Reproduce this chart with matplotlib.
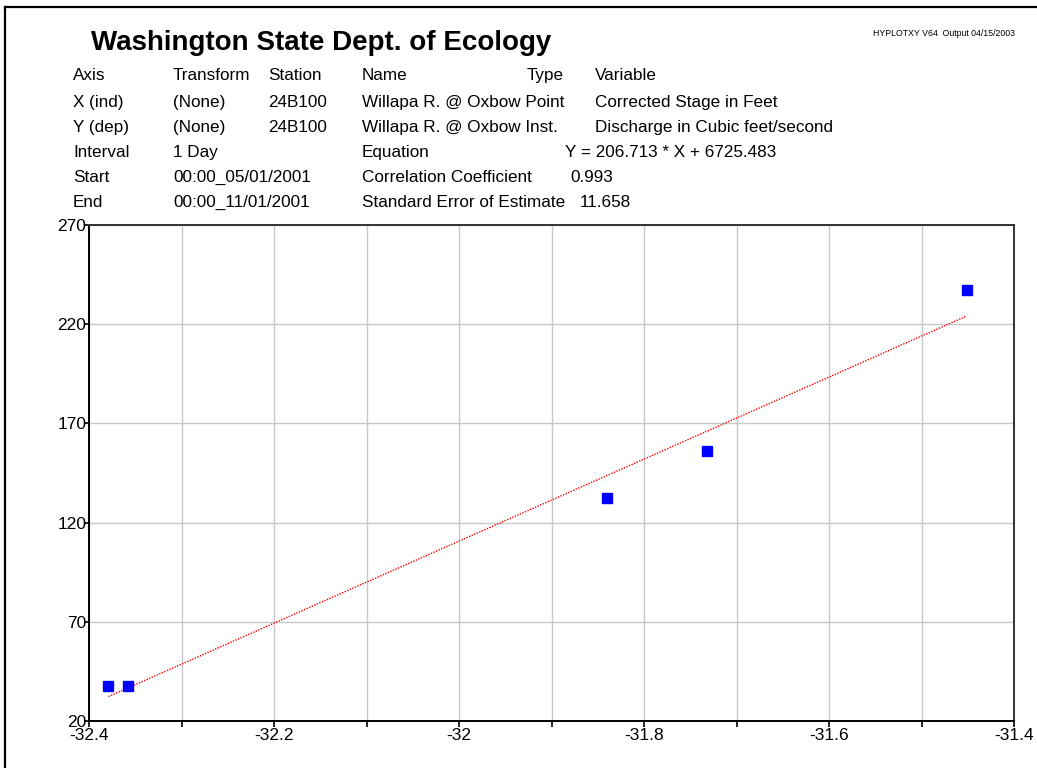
import numpy as np
import matplotlib
matplotlib.use("Agg")
import matplotlib.pyplot as plt
from matplotlib.lines import Line2D
from matplotlib.ticker import MultipleLocator

plt.rcParams["font.family"] = ["Liberation Sans", "DejaVu Sans"]

# ── data ─────────────────────────────────────────────────────────────
stage = [-32.379, -32.358, -31.840, -31.732, -31.451]      # Corrected Stage in Feet
discharge = [37.6, 37.6, 132.4, 156.1, 237.2]               # Discharge in cfs
slope = 206.713
intercept = 6725.483
y_ticks = [20, 70, 120, 170, 220, 270]

header_rows = [
    ["Axis", "Transform", "Station", "Name", "Type", "Variable"],
    ["X (ind)", "(None)", "24B100", "Willapa R. @ Oxbow Point", "", "Corrected Stage in Feet"],
    ["Y (dep)", "(None)", "24B100", "Willapa R. @ Oxbow Inst.", "", "Discharge in Cubic feet/second"],
]
stat_rows = [
    ("Interval", "1 Day", "Equation", "Y = 206.713 * X + 6725.483"),
    ("Start", "00:00_05/01/2001", "Correlation Coefficient", "0.993"),
    ("End", "00:00_11/01/2001", "Standard Error of Estimate", "11.658"),
]

W, H = 1037, 768
fig = plt.figure(figsize=(W / 100, H / 100), dpi=100, facecolor="white")


def fx(px):
    return px / W


def fy(py):
    return 1 - py / H


# outer frame (top + left)
fig.add_artist(Line2D([fx(5), fx(W)], [fy(7), fy(7)], color="black", lw=1.6))
fig.add_artist(Line2D([fx(5), fx(5)], [fy(7), fy(H)], color="black", lw=1.6))

# ── header ──────────────────────────────────────────────────────────
fig.text(fx(91), fy(50), "Washington State Dept. of Ecology", fontsize=20,
         fontweight="bold", va="baseline", ha="left")
fig.text(fx(1015), fy(36), "HYPLOTXY V64  Output 04/15/2003", fontsize=6.3,
         va="baseline", ha="right")

FS = 12.3
col_x = [73, 173, 268, 362, 527, 595]
row_y = [80, 107, 132]
for y, row in zip(row_y, header_rows):
    for x, txt in zip(col_x, row):
        if txt:
            fig.text(fx(x), fy(y), txt, fontsize=FS, va="baseline", ha="left")

stat_y = [157, 182, 207]
val_x = [565, 570, 580]
for y, vx, (a, b, c, d) in zip(stat_y, val_x, stat_rows):
    fig.text(fx(73), fy(y), a, fontsize=FS, va="baseline")
    fig.text(fx(173), fy(y), b, fontsize=FS, va="baseline")
    fig.text(fx(362), fy(y), c, fontsize=FS, va="baseline")
    fig.text(fx(vx), fy(y), d, fontsize=FS, va="baseline")

# ── plot ────────────────────────────────────────────────────────────
ax = fig.add_axes([fx(89), fy(721), (1014 - 89) / W, (721 - 225) / H])

xs = np.array([min(stage), max(stage)])
ax.plot(xs, slope * xs + intercept, color="red", lw=1.0, ls=(0, (1, 1)), zorder=3)
ax.plot(stage, discharge, ls="none", marker="s", markersize=7.2,
        color="#0000ff", markeredgecolor="#0000ff", zorder=4)

ax.set_xlim(-32.4, -31.4)
ax.set_ylim(20, 270)
ax.xaxis.set_major_locator(MultipleLocator(0.2))
ax.xaxis.set_minor_locator(MultipleLocator(0.1))
ax.set_yticks(y_ticks)
ax.xaxis.set_major_formatter(plt.FuncFormatter(lambda v, p: f"{v:g}"))

ax.grid(True, which="both", color="#c8c8c8", lw=1.0, zorder=0)
ax.set_axisbelow(True)
ax.tick_params(axis="x", which="both", direction="out", length=4, width=1.2,
               labelsize=12.5, pad=1, color="black")
ax.tick_params(axis="y", direction="out", length=3, width=1.2,
               labelsize=12.5, pad=-1, color="black")

for name, sp in ax.spines.items():
    sp.set_linewidth(1.4)
    sp.set_color("black" if name in ("left", "bottom") else "#333333")

fig.savefig("out.png", dpi=100, facecolor="white")
